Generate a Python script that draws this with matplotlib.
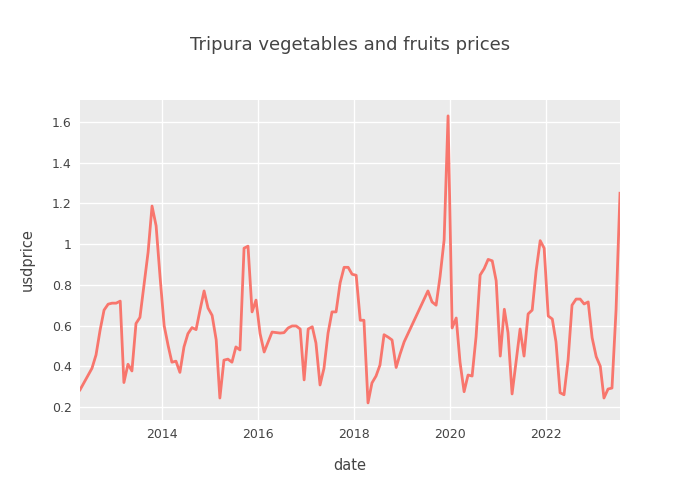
import matplotlib.pyplot as plt
import matplotlib.dates as mdates
import pandas as pd

# monthly observations (month, usd price)
months = ["2012-04", "2012-07", "2012-08", "2012-09", "2012-10", "2012-11", "2012-12",
          "2013-01", "2013-02", "2013-03", "2013-04", "2013-05", "2013-06", "2013-07",
          "2013-08", "2013-09", "2013-10", "2013-11", "2013-12",
          "2014-01", "2014-02", "2014-03", "2014-04", "2014-05", "2014-06", "2014-07",
          "2014-08", "2014-09", "2014-10", "2014-11", "2014-12",
          "2015-01", "2015-02", "2015-03", "2015-04", "2015-05", "2015-06", "2015-07",
          "2015-08", "2015-09", "2015-10", "2015-11", "2015-12",
          "2016-01", "2016-02", "2016-04", "2016-06", "2016-07", "2016-08", "2016-09",
          "2016-10", "2016-11", "2016-12",
          "2017-01", "2017-02", "2017-03", "2017-04", "2017-05", "2017-06", "2017-07",
          "2017-08", "2017-09", "2017-10", "2017-11", "2017-12",
          "2018-01", "2018-02", "2018-03", "2018-04", "2018-05", "2018-06", "2018-07",
          "2018-08", "2018-09", "2018-10", "2018-11", "2018-12",
          "2019-01", "2019-07", "2019-08", "2019-09", "2019-10", "2019-11", "2019-12",
          "2020-01", "2020-02", "2020-03", "2020-04", "2020-05", "2020-06", "2020-07",
          "2020-08", "2020-09", "2020-10", "2020-11", "2020-12",
          "2021-01", "2021-02", "2021-03", "2021-04", "2021-05", "2021-06", "2021-07",
          "2021-08", "2021-09", "2021-10", "2021-11", "2021-12",
          "2022-01", "2022-02", "2022-03", "2022-04", "2022-05", "2022-06", "2022-07",
          "2022-08", "2022-09", "2022-10", "2022-11", "2022-12",
          "2023-01", "2023-02", "2023-03", "2023-04", "2023-05", "2023-06", "2023-07"]

usdprice = [0.284, 0.39, 0.456, 0.578, 0.676, 0.705, 0.71,
            0.71, 0.72, 0.32, 0.41, 0.377, 0.61, 0.64,
            0.80, 0.96, 1.187, 1.09, 0.84,
            0.60, 0.50, 0.42, 0.425, 0.37, 0.495, 0.56,
            0.59, 0.58, 0.676, 0.77, 0.686,
            0.65, 0.53, 0.244, 0.43, 0.435, 0.42, 0.495,
            0.48, 0.98, 0.99, 0.667, 0.725,
            0.56, 0.47, 0.568, 0.563, 0.565, 0.588, 0.598,
            0.598, 0.583, 0.333,
            0.583, 0.594, 0.514, 0.308, 0.39, 0.563, 0.667,
            0.667, 0.81, 0.886, 0.886, 0.852,
            0.847, 0.626, 0.626, 0.22, 0.318, 0.352, 0.406,
            0.555, 0.543, 0.529, 0.394, 0.46,
            0.52, 0.77, 0.716, 0.70, 0.84, 1.02, 1.63,
            0.588, 0.637, 0.42, 0.275, 0.357, 0.352, 0.545,
            0.848, 0.88, 0.925, 0.918, 0.82,
            0.45, 0.68, 0.565, 0.264, 0.42, 0.583, 0.45,
            0.657, 0.676, 0.87, 1.017, 0.98,
            0.647, 0.632, 0.52, 0.27, 0.26, 0.43, 0.70,
            0.73, 0.73, 0.706, 0.716, 0.54,
            0.447, 0.40, 0.244, 0.288, 0.293, 0.677, 1.25]

dates = pd.to_datetime([m + "-15" for m in months])

fig = plt.figure(figsize=(7, 5), dpi=100)
ax = fig.add_axes([80 / 700, 0.16, 540 / 700, 0.64])
ax.set_facecolor("#EBEBEB")

ax.plot(dates, usdprice, color="#F8766D", linewidth=2)

ax.set_xlim(dates[0], dates[-1])
ax.set_ylim(0.136, 1.708)
ax.set_yticks([0.2, 0.4, 0.6, 0.8, 1.0, 1.2, 1.4, 1.6])
ax.set_yticklabels(["0.2", "0.4", "0.6", "0.8", "1", "1.2", "1.4", "1.6"])
ax.xaxis.set_major_locator(mdates.YearLocator(2))
ax.xaxis.set_major_formatter(mdates.DateFormatter("%Y"))

ax.grid(True, color="white", linewidth=1)
ax.set_axisbelow(True)
for s in ax.spines.values():
    s.set_visible(False)
ax.tick_params(length=0, colors="#444444", labelsize=9, pad=6)

ax.set_xlabel("date", color="#444444", fontsize=10.5, labelpad=12)
ax.set_ylabel("usdprice", color="#444444", fontsize=10.5, labelpad=12)
fig.text(0.5, 0.91, "Tripura vegetables and fruits prices", ha="center",
         va="center", fontsize=13, color="#444444")

plt.savefig("out.png")
